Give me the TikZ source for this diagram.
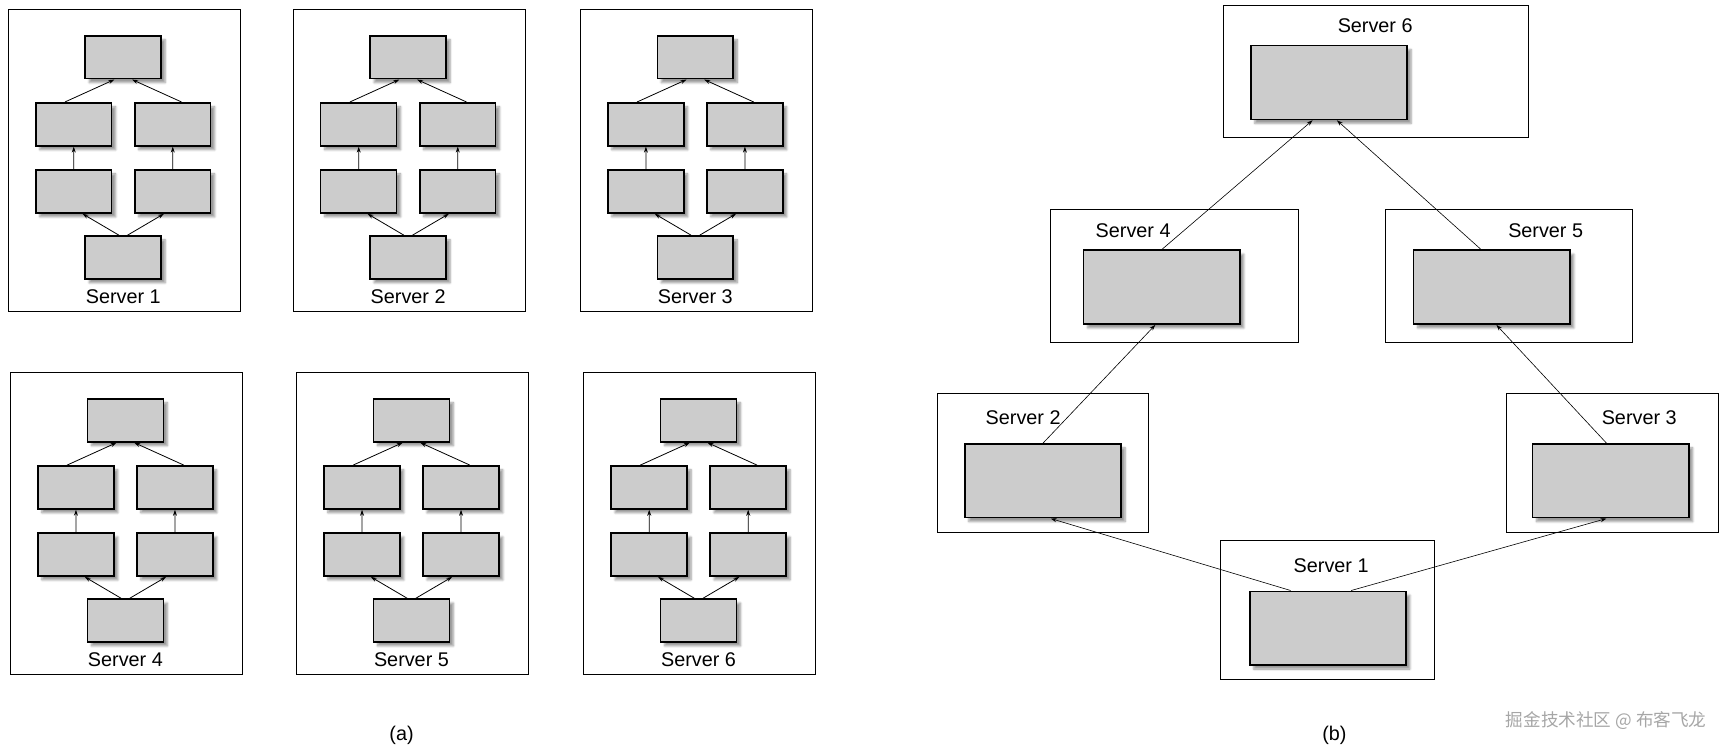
\documentclass[tikz,border=0pt]{standalone}
\usepackage{fontspec}
\setmainfont{Liberation Sans}
\newfontfamily\cjk{Noto Sans CJK SC}
\usetikzlibrary{positioning,shadows.blur,arrows.meta,calc}

\tikzset{
  srv/.style={draw, thick, minimum width=211pt, minimum height=275pt, inner sep=0pt},
  bigsrv/.style={draw, thick, inner sep=0pt},
  blk/.style={draw, line width=1.6pt, fill=gray!40, minimum width=69pt, minimum height=39pt,
    blur shadow={shadow xshift=4pt, shadow yshift=-4pt, shadow blur steps=6}},
  bigblk/.style={blk, minimum width=142pt, minimum height=67pt},
  lbl/.style={font=\fontsize{18}{20}\selectfont},
  link/.style={-{Stealth[length=6pt,width=4pt]}, semithick}
}

\begin{document}
\begin{tikzpicture}[x=1pt,y=-1pt,scale=1.1,transform shape]
  \useasboundingbox (0,0) rectangle (1568,685);

  % (a) six servers, whole graph on each
  \foreach \i/\bx/\by in {1/7/8, 2/266/8, 3/527/8, 4/9/338, 5/269/338, 6/530/338} {
    \node[srv, anchor=north west] (s\i) at (\bx,\by) {};
    \node[blk] (t\i) at (\bx+105,\by+44) {};
    \node[blk] (ml\i) at (\bx+60,\by+105) {};
    \node[blk] (mr\i) at (\bx+150,\by+105) {};
    \node[blk] (ll\i) at (\bx+60,\by+166) {};
    \node[blk] (lr\i) at (\bx+150,\by+166) {};
    \node[blk] (b\i) at (\bx+105,\by+226) {};
    \node[lbl] (n\i) at (\bx+105,\by+262) {Server \i};
    \draw[link, thick] ([xshift=-4pt]b\i.north) -- ([xshift=8pt]ll\i.south);
    \draw[link, thick] ([xshift=4pt]b\i.north) -- ([xshift=-8pt]lr\i.south);
    \draw[link, thick] (ll\i) -- (ml\i);
    \draw[link, thick] (lr\i) -- (mr\i);
    \draw[link, thick] ([xshift=-8pt]ml\i.north) -- ([xshift=-8pt]t\i.south);
    \draw[link, thick] ([xshift=8pt]mr\i.north) -- ([xshift=8pt]t\i.south);
  }
  \node[lbl] (capa) at (365,668) {(a)};

  % (b) one stage per server
  \draw[bigsrv] (1112,5) rectangle (1389,125);
  \node[lbl] (n6) at (1250,23) {Server 6};
  \node[bigblk] (r6) at (1208,75) {};

  \draw[bigsrv] (955,190) rectangle (1180,311);
  \node[lbl] (n4) at (1030,210) {Server 4};
  \node[bigblk] (r4) at (1056,261) {};

  \draw[bigsrv] (1259,190) rectangle (1484,311);
  \node[lbl] (n5) at (1405,210) {Server 5};
  \node[bigblk] (r5) at (1356,261) {};

  \draw[bigsrv] (852,358) rectangle (1044,484);
  \node[lbl] (n2) at (930,380) {Server 2};
  \node[bigblk] (r2) at (948,437) {};

  \draw[bigsrv] (1369,358) rectangle (1562,484);
  \node[lbl] (n3) at (1490,380) {Server 3};
  \node[bigblk] (r3) at (1464,437) {};

  \draw[bigsrv] (1109,491) rectangle (1304,618);
  \node[lbl] (n1) at (1210,514) {Server 1};
  \node[bigblk] (r1) at (1207,571) {};

  \draw[link] ([xshift=-34pt]r1.north) -- ([xshift=7pt]r2.south);
  \draw[link] ([xshift=21pt]r1.north) -- ([xshift=-4pt]r3.south);
  \draw[link] (r2.north) -- ([xshift=-6pt]r4.south);
  \draw[link] ([xshift=-4pt]r3.north) -- ([xshift=4pt]r5.south);
  \draw[link] (r4.north) -- ([xshift=-15pt]r6.south);
  \draw[link] ([xshift=-10pt]r5.north) -- ([xshift=7pt]r6.south);
  \node[lbl] (capb) at (1213,668) {(b)};

  \node[lbl, text=gray!70, font=\cjk\fontsize{16}{18}\selectfont] (wm) at (1460,655) {掘金技术社区 @ 布客飞龙};
\end{tikzpicture}
\end{document}
